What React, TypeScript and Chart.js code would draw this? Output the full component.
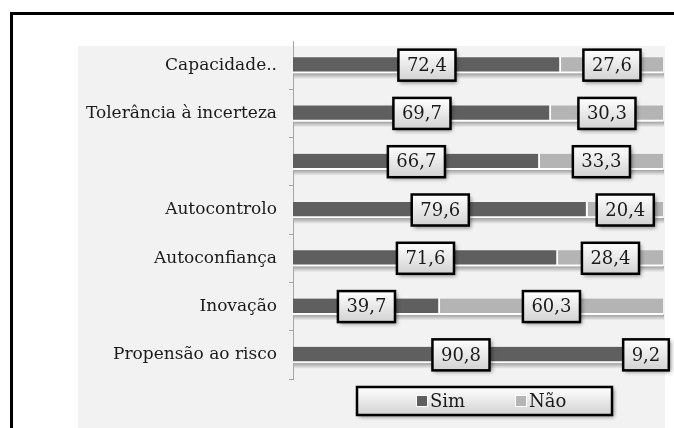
import React, { useEffect, useRef } from "react";
import { Chart, registerables } from "chart.js";

Chart.register(...registerables);

const categories = [
  "Capacidade..",
  "Tolerância à incerteza",
  "",
  "Autocontrolo",
  "Autoconfiança",
  "Inovação",
  "Propensão ao risco",
];
const simValues = [72.4, 69.7, 66.7, 79.6, 71.6, 39.7, 90.8];
const naoValues = [27.6, 30.3, 33.3, 20.4, 28.4, 60.3, 9.2];
const seriesNames = ["Sim", "Não"];

const FONT = "'DejaVu Serif', serif";
const SIM_COLOR = "#5f5f5f";
const NAO_COLOR = "#b4b4b4";

function drawBox(ctx: CanvasRenderingContext2D, x: number, y: number, w: number, h: number) {
  ctx.save();
  ctx.shadowColor = "rgba(0,0,0,0.45)";
  ctx.shadowBlur = 4;
  ctx.shadowOffsetX = 2;
  ctx.shadowOffsetY = 2;
  const g = ctx.createLinearGradient(0, y, 0, y + h);
  g.addColorStop(0, "#ffffff");
  g.addColorStop(1, "#d2d2d2");
  ctx.fillStyle = g;
  ctx.fillRect(x, y, w, h);
  ctx.restore();
  ctx.save();
  ctx.strokeStyle = "#000";
  ctx.lineWidth = 2.5;
  ctx.strokeRect(x, y, w, h);
  ctx.restore();
}

const framePlugin = {
  id: "frame",
  beforeDraw(chart: any) {
    const ctx = chart.ctx as CanvasRenderingContext2D;
    ctx.save();
    ctx.fillStyle = "#ffffff";
    ctx.fillRect(0, 0, chart.width, chart.height);
    ctx.fillStyle = "#f2f2f2";
    ctx.fillRect(78, 46, 587, chart.height - 46);
    ctx.strokeStyle = "#000";
    ctx.lineWidth = 3;
    ctx.strokeRect(11.5, 13.5, chart.width + 20, chart.height + 20);
    ctx.restore();
  },
};

const shadowPlugin = {
  id: "barShadow",
  beforeDatasetsDraw(chart: any) {
    const ctx = chart.ctx as CanvasRenderingContext2D;
    ctx.save();
    chart.data.datasets.forEach((_: any, di: number) => {
      const meta = chart.getDatasetMeta(di);
      meta.data.forEach((bar: any) => {
        const p = bar.getProps(["x", "y", "base", "height"], true);
        const left = Math.min(p.x, p.base);
        const right = Math.max(p.x, p.base);
        const bottom = p.y + p.height / 2;
        const g = ctx.createLinearGradient(0, bottom, 0, bottom + 6);
        g.addColorStop(0, "rgba(0,0,0,0.35)");
        g.addColorStop(1, "rgba(0,0,0,0)");
        ctx.fillStyle = g;
        ctx.fillRect(left + 1, bottom, right - left, 6);
      });
    });
    ctx.restore();
  },
};

const labelPlugin = {
  id: "boxLabels",
  afterDatasetsDraw(chart: any) {
    const ctx = chart.ctx as CanvasRenderingContext2D;
    ctx.save();
    ctx.font = `18px ${FONT}`;
    chart.data.datasets.forEach((ds: any, di: number) => {
      const meta = chart.getDatasetMeta(di);
      meta.data.forEach((bar: any, i: number) => {
        const p = bar.getProps(["x", "y", "base"], true);
        const cx = (p.x + p.base) / 2;
        const txt = ds.data[i].toFixed(1).replace(".", ",");
        const w = ctx.measureText(txt).width + 17;
        const h = 31;
        drawBox(ctx, cx - w / 2, p.y - h / 2, w, h);
        ctx.fillStyle = "#1a1a1a";
        ctx.textAlign = "center";
        ctx.textBaseline = "middle";
        ctx.fillText(txt, cx, p.y + 1);
      });
    });
    ctx.restore();
  },
};

const legendPlugin = {
  id: "boxLegend",
  afterDraw(chart: any) {
    const ctx = chart.ctx as CanvasRenderingContext2D;
    ctx.save();
    drawBox(ctx, 357, 387, 255, 28);
    const cy = 401;
    const items = [
      { x: 417, color: SIM_COLOR, name: seriesNames[0] },
      { x: 516, color: NAO_COLOR, name: seriesNames[1] },
    ];
    ctx.font = `18px ${FONT}`;
    items.forEach((it) => {
      ctx.fillStyle = "#ffffff";
      ctx.fillRect(it.x - 1, cy - 6, 12, 12);
      ctx.fillStyle = it.color;
      ctx.fillRect(it.x, cy - 5, 10, 10);
      ctx.fillStyle = "#1a1a1a";
      ctx.textAlign = "left";
      ctx.textBaseline = "middle";
      ctx.fillText(it.name, it.x + 13, cy + 1);
    });
    ctx.restore();
  },
};

export default function App() {
  const ref = useRef<HTMLCanvasElement | null>(null);
  useEffect(() => {
    if (!ref.current) return;
    const chart = new Chart(ref.current, {
      type: "bar",
      data: {
        labels: categories,
        datasets: [
          {
            label: seriesNames[0],
            data: simValues,
            backgroundColor: SIM_COLOR,
            borderColor: "#ffffff",
            borderWidth: { top: 0, left: 0, bottom: 2, right: 2 },
            borderSkipped: false,
            barThickness: 16,
          },
          {
            label: seriesNames[1],
            data: naoValues,
            backgroundColor: NAO_COLOR,
            borderColor: "#ffffff",
            borderWidth: { top: 0, left: 0, bottom: 2, right: 0 },
            borderSkipped: false,
            barThickness: 16,
          },
        ],
      },
      options: {
        indexAxis: "y",
        responsive: false,
        animation: false,
        layout: { padding: { left: 0, right: 11, top: 41, bottom: 49 } },
        plugins: {
          legend: { display: false },
          tooltip: { enabled: false },
        },
        scales: {
          x: { display: false, stacked: true, min: 0, max: 100 },
          y: {
            stacked: true,
            afterFit: (scale: any) => {
              scale.width = 293;
            },
            border: { display: true, color: "#a6a6a6", width: 1 },
            grid: {
              display: true,
              drawOnChartArea: false,
              drawTicks: true,
              tickLength: 4,
              color: (c: any) => (c.index === 0 ? "rgba(0,0,0,0)" : "#a6a6a6"),
            },
            ticks: {
              color: "#1a1a1a",
              font: { family: FONT, size: 17 },
              padding: 12,
            },
          },
        },
      },
      plugins: [framePlugin, shadowPlugin, labelPlugin, legendPlugin],
    } as any);
    return () => chart.destroy();
  }, []);
  return (
    <div style={{ position: "absolute", left: 0, top: 0, width: 674, height: 428 }}>
      <canvas ref={ref} width={674} height={428} />
    </div>
  );
}
